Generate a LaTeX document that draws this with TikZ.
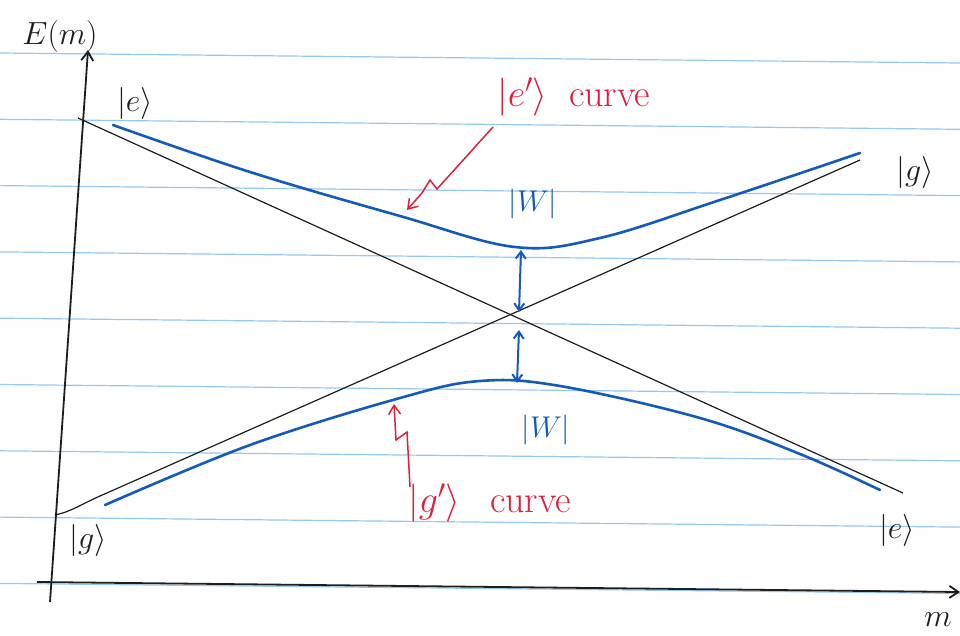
\documentclass[tikz,border=0pt]{standalone}
\usepackage{fix-cm}
\usetikzlibrary{arrows.meta}
\definecolor{ruled}{RGB}{150,200,240}
\definecolor{penblue}{RGB}{20,90,190}
\definecolor{penred}{RGB}{225,30,60}
\definecolor{pencil}{RGB}{30,30,30}
\begin{document}
\begin{tikzpicture}[x=1pt,y=-1pt,
  rule/.style={draw=ruled,line width=1.2pt},
  axis/.style={draw=pencil,line width=1.8pt,-{Straight Barb[length=9pt,width=12pt]}},
  thin/.style={draw=pencil,line width=1.2pt},
  energy/.style={draw=penblue,line width=2.6pt,line cap=round},
  gap/.style={draw=penblue,line width=2pt,{Straight Barb[length=7pt,width=10pt]}-{Straight Barb[length=7pt,width=10pt]}},
  note/.style={draw=penred,line width=1.5pt,-{Straight Barb[length=9pt,width=12pt]}},
  lab/.style={text=pencil,font=\fontsize{32}{34}\selectfont,inner sep=0pt},
  blab/.style={text=penblue,font=\fontsize{30}{32}\selectfont,inner sep=0pt},
  rlab/.style={text=penred,font=\fontsize{38}{40}\selectfont,inner sep=0pt}]
\useasboundingbox[fill=white] (0,0) rectangle (960,635);
% ruled paper
\foreach \k in {-1,...,8}{
  \draw[rule] (0,{53+66.3*\k}) -- (960,{63+66.3*\k});
}
% axes
\coordinate (yb) at (50,602);
\coordinate (yt) at (88,50);
\coordinate (xl) at (37,582);
\coordinate (xr) at (960,592);
\draw[axis] (yb) -- (yt);
\draw[axis] (xl) -- (xr);
\node[lab] (E) at (60,36) {$E(m)$};
\node[lab] (m) at (938,620) {$m$};
% diabatic lines
\coordinate (e0) at (78,118);
\coordinate (e1) at (903,493);
\coordinate (g0) at (55,515);
\coordinate (g1) at (860,160);
\coordinate (X) at (520,315);
\draw[thin] (e0) -- (e1);
\draw[thin] (g0) .. controls (70,512) and (80,505) .. (100,496) -- (g1);
% adiabatic curves
\draw[energy] plot[smooth,tension=0.6] coordinates {(113,125) (250,172) (400,216) (515,247) (600,238) (720,200) (860,153)};
\draw[energy] plot[smooth,tension=0.6] coordinates {(105,505) (250,445) (400,398) (480,381) (560,386) (700,418) (800,454) (880,490)};
\coordinate (up) at (521,250);
\coordinate (Xa) at (519,312);
\coordinate (Xb) at (519,330);
\coordinate (lo) at (517,383);
\draw[gap] (up) -- (Xa);
\draw[gap] (Xb) -- (lo);
\node[blab] (w1) at (533,204) {$|W|$};
\node[blab] (w2) at (546,430) {$|W|$};
% state labels
\node[lab] (le) at (135,103) {$|e\rangle$};
\node[lab] (rg) at (915,172) {$|g\rangle$};
\node[lab] (lg) at (88,540) {$|g\rangle$};
\node[lab] (re) at (897,530) {$|e\rangle$};
% red notes
\node[rlab,anchor=west] (ecurve) at (497,97) {$|e'\rangle$\hspace{10pt} curve};
\node[rlab,anchor=west] (gcurve) at (408,503) {$|g'\rangle$\hspace{18pt} curve};
\coordinate (ea) at (493,127);
\coordinate (et) at (407,210);
\draw[note] (ea) -- (437,189) -- (430,180) -- (422,193) -- (et);
\coordinate (ga) at (410,487);
\coordinate (gt) at (394,404);
\draw[note] (ga) -- (407,432) -- (396,440) -- (gt);
\end{tikzpicture}
\end{document}
